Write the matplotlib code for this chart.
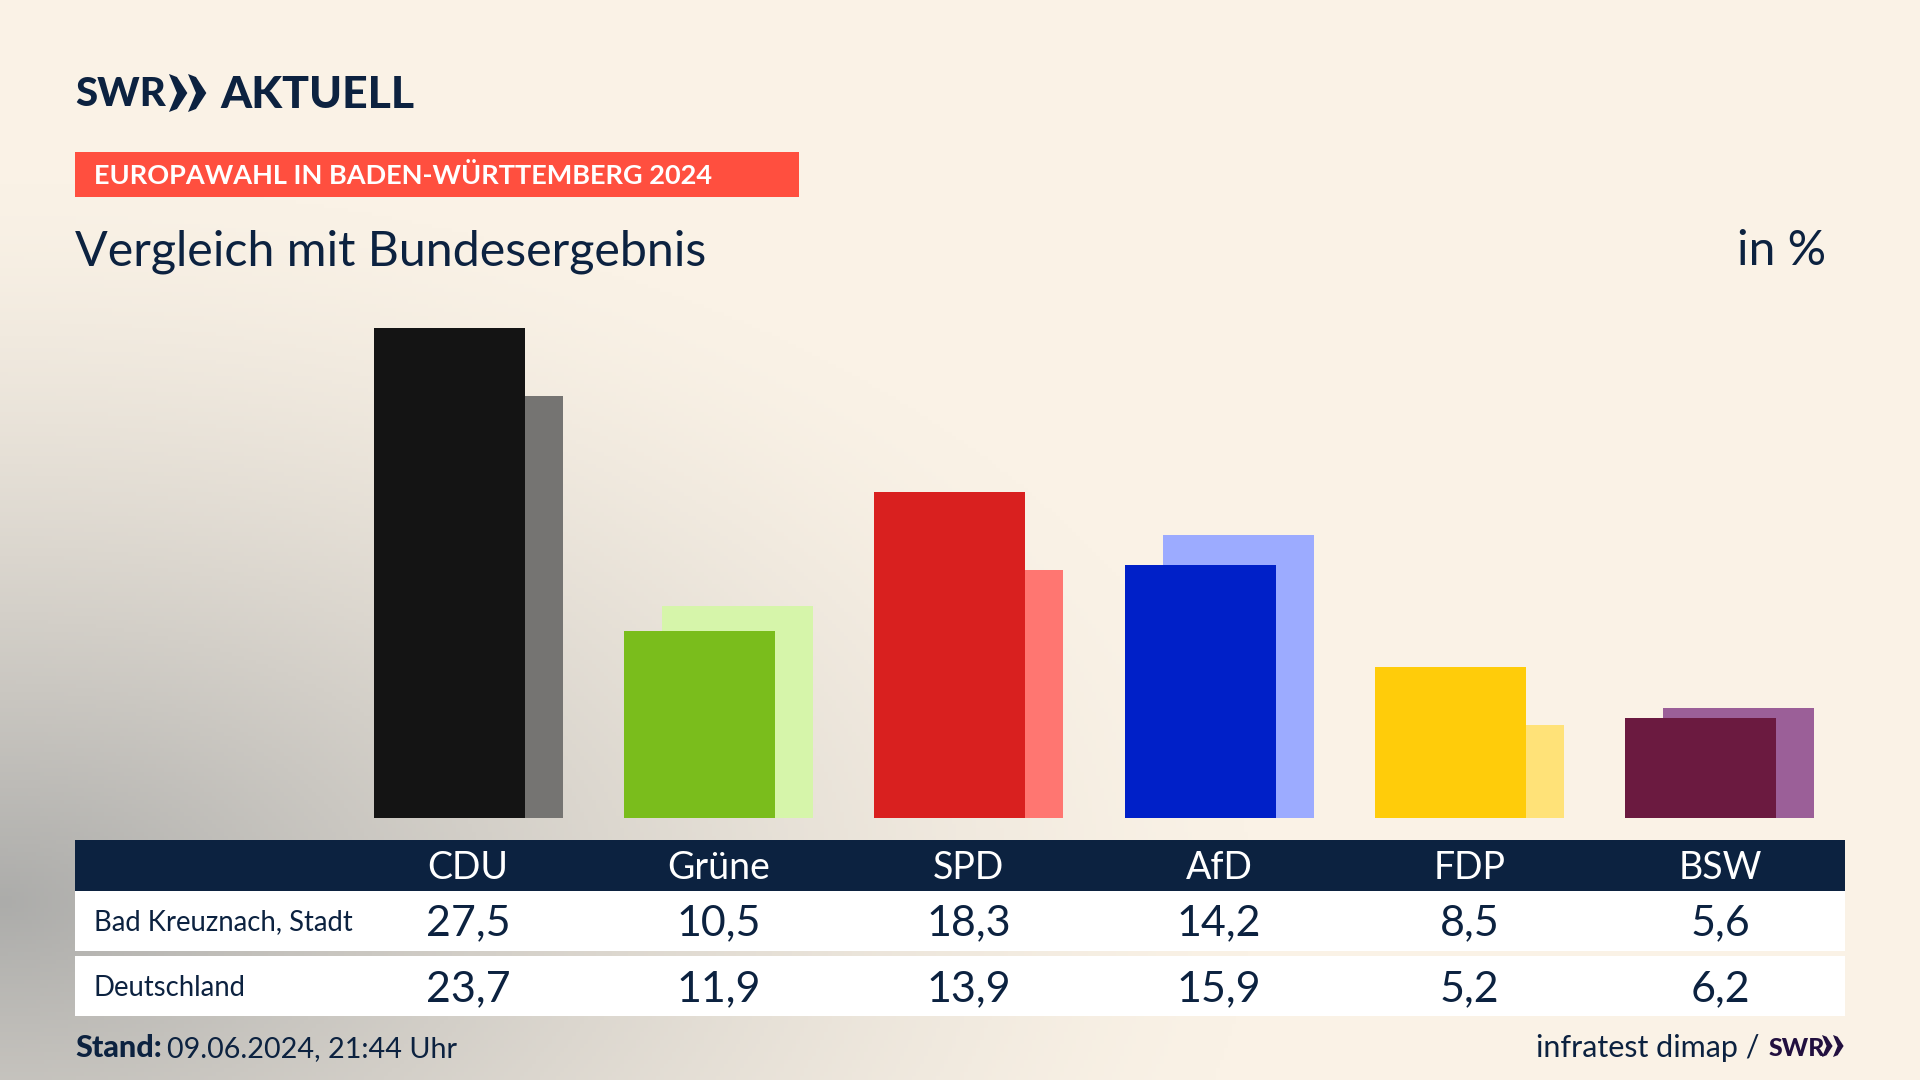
import numpy as np
import matplotlib
matplotlib.use('Agg')
import matplotlib.pyplot as plt
from matplotlib.patches import Rectangle, Polygon

plt.rcParams['font.family'] = ['Lato', 'DejaVu Sans']

parties = ['CDU', 'Grüne', 'SPD', 'AfD', 'FDP', 'BSW']
local_values = [27.5, 10.5, 18.3, 14.2, 8.5, 5.6]
national_values = [23.7, 11.9, 13.9, 15.9, 5.2, 6.2]
local_name = 'Bad Kreuznach, Stadt'
national_name = 'Deutschland'
front_colors = ['#141414', '#7ABD1C', '#D9201F', '#0020C8', '#FFCC0A', '#6B1A40']
back_colors = ['#757472', '#D6F5AA', '#FF7671', '#9CABFF', '#FFE278', '#9B5F98']

NAVY = '#0C2240'
W, H = 1920, 1080

fig = plt.figure(figsize=(19.2, 10.8), dpi=100)

# page layer in pixel coordinates
page = fig.add_axes([0, 0, 1, 1])
page.set_xlim(0, W)
page.set_ylim(H, 0)
page.axis('off')

# soft grey glow from the lower left corner
xx, yy = np.meshgrid(np.arange(0, W, 4), np.arange(0, H, 4))
dist = np.sqrt((xx / 1250) ** 2 + ((yy - 900) / 720) ** 2)
glow = np.clip(1 - dist, 0, 1) ** 1.4
cream = np.array([250, 242, 230]) / 255
grey = np.array([172, 172, 170]) / 255
bg = cream + (grey - cream) * glow[..., None]
page.imshow(bg, extent=(0, W, H, 0), aspect='auto', zorder=0)


def chevrons(x, y, h, color):
    # the two arrows of the SWR logo
    w = h * 0.42
    for dx in (0, h * 0.5):
        page.add_patch(Polygon([(x + dx, y), (x + dx + w * 0.5, y + h * 0.08), (x + dx + w * 1.15, y + h / 2),
                                (x + dx + w * 0.5, y + h * 0.92), (x + dx, y + h), (x + dx + w * 0.5, y + h / 2)],
                               closed=True, color=color, lw=0, zorder=3))


# logo
page.text(75, 95, 'SWR', fontsize=29, fontweight='black', color=NAVY, va='center', ha='left')
chevrons(169, 74, 38, NAVY)
page.text(220, 95, 'AKTUELL', fontsize=32, fontweight='black', color=NAVY, va='center', ha='left')

# kicker and title
page.add_patch(Rectangle((75, 152), 724, 45, color='#FF4F3F', lw=0, zorder=2))
page.text(94, 176, 'EUROPAWAHL IN BADEN-WÜRTTEMBERG 2024', fontsize=19.5, fontweight='bold',
          color='white', va='center', ha='left', zorder=3)
page.text(75, 265, 'Vergleich mit Bundesergebnis', fontsize=34.8, color=NAVY, va='baseline', ha='left')
page.text(1826, 265, 'in %', fontsize=34.6, color=NAVY, va='baseline', ha='right')

# table behind the chart
page.add_patch(Rectangle((75, 840), 1770, 51, color=NAVY, lw=0, zorder=2))
page.add_patch(Rectangle((75, 891), 1770, 60, color='white', lw=0, zorder=2))
page.add_patch(Rectangle((75, 956), 1770, 60, color='white', lw=0, zorder=2))
page.text(94, 922, local_name, fontsize=19.8, color=NAVY, va='center', ha='left', zorder=3)
page.text(94, 988, national_name, fontsize=19.8, color=NAVY, va='center', ha='left', zorder=3)

# bars, one unit on x is one table column
ax = fig.add_axes([343 / W, 1 - 818 / H, 1502 / W, 490 / H])
ax.patch.set_alpha(0)
ax.set_xlim(-0.5, 5.5)
ax.set_ylim(0, 27.5)
ax.axis('off')
pos = np.arange(len(parties))
ax.bar(pos + 0.076, national_values, width=0.603, color=back_colors, zorder=1)
ax.bar(pos - 0.076, local_values, width=0.603, color=front_colors, zorder=2)

for i, party in enumerate(parties):
    cx = 468 + i * 250.4
    page.text(cx, 868, party, fontsize=27, color='white', va='center', ha='center', zorder=3)
    page.text(cx, 923, f'{local_values[i]:.1f}'.replace('.', ','), fontsize=31, color=NAVY,
              va='center', ha='center', zorder=3)
    page.text(cx, 989, f'{national_values[i]:.1f}'.replace('.', ','), fontsize=31, color=NAVY,
              va='center', ha='center', zorder=3)

# footer
page.text(75, 1057, 'Stand:', fontsize=22, fontweight='black', color=NAVY, va='baseline', ha='left')
page.text(167, 1057, '09.06.2024, 21:44 Uhr', fontsize=20.7, color=NAVY, va='baseline', ha='left')
page.text(1760, 1057, 'infratest dimap /', fontsize=22, color=NAVY, va='baseline', ha='right')
page.text(1769, 1056, 'SWR', fontsize=18, fontweight='black', color='#22103F', va='baseline', ha='left')
chevrons(1822, 1035, 22, '#22103F')

fig.savefig('out.png', dpi=100)
